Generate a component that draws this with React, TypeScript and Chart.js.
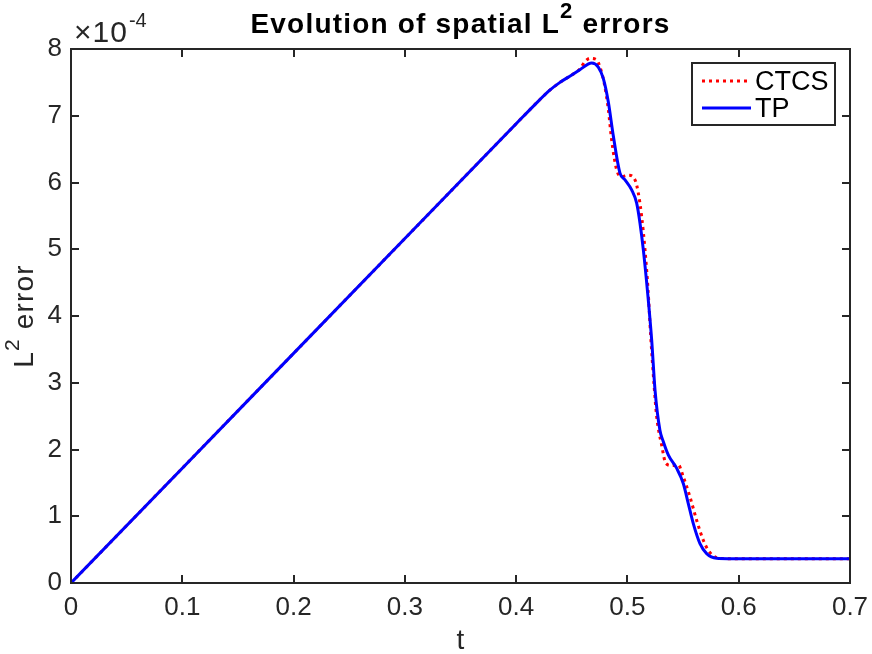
import React, { useEffect, useRef } from 'react';
import { Chart, registerables } from 'chart.js';

Chart.register(...registerables);

// Values of the L2 error are given in units of 1e-4 (axis multiplier "×10^-4").
const xTickValues = [0, 0.1, 0.2, 0.3, 0.4, 0.5, 0.6, 0.7];
const yTickValues = [0, 1, 2, 3, 4, 5, 6, 7, 8];
const seriesNames = ['CTCS', 'TP'];

const ctcsT = [0, 0.1, 0.2, 0.3, 0.4, 0.42, 0.43, 0.4394, 0.45, 0.4573, 0.4618, 0.4663, 0.4723, 0.4753, 0.479, 0.4828, 0.4858, 0.4903, 0.4948, 0.5008, 0.5068, 0.5098, 0.5128, 0.5158, 0.5185, 0.5209, 0.524, 0.5263, 0.5307, 0.5346, 0.54, 0.5457, 0.5502, 0.5562, 0.5622, 0.5682, 0.5727, 0.5802, 0.59, 0.7];
const ctcsErr = [0, 1.72, 3.44, 5.16, 6.88, 7.22, 7.38, 7.5, 7.61, 7.7, 7.81, 7.86, 7.84, 7.73, 7.5, 7.1, 6.64, 6.19, 6.09, 6.11, 6.04, 5.84, 5.49, 4.99, 4.4, 3.7, 2.95, 2.49, 2.07, 1.79, 1.76, 1.77, 1.59, 1.29, 0.94, 0.64, 0.49, 0.38, 0.365, 0.365];

const tpT = [0, 0.1, 0.2, 0.3, 0.4, 0.42, 0.43, 0.4394, 0.45, 0.4573, 0.4679, 0.4738, 0.4783, 0.4828, 0.4873, 0.4933, 0.4978, 0.5038, 0.5083, 0.5113, 0.5143, 0.5182, 0.5218, 0.5248, 0.5292, 0.5322, 0.5367, 0.5442, 0.5502, 0.5547, 0.5592, 0.5652, 0.5712, 0.5802, 0.59, 0.7];
const tpErr = [0, 1.72, 3.44, 5.16, 6.88, 7.22, 7.38, 7.5, 7.61, 7.69, 7.79, 7.73, 7.56, 7.21, 6.7, 6.14, 6.04, 5.89, 5.69, 5.39, 4.99, 4.34, 3.64, 2.89, 2.29, 2.12, 1.92, 1.72, 1.49, 1.19, 0.89, 0.59, 0.44, 0.37, 0.365, 0.365];

const FONT = '"Liberation Sans", Arial, Helvetica, sans-serif';
const AXIS_COLOR = '#262626';

function setSpacing(ctx: any, px: number) {
  if ('letterSpacing' in ctx) ctx.letterSpacing = `${px}px`;
}

const decorPlugin = {
  id: 'matlabDecor',
  afterDraw(chart: any) {
    const { ctx, chartArea } = chart;
    const { left, right, top, bottom } = chartArea;
    const xs = chart.scales.x;
    const ys = chart.scales.y;
    ctx.save();
    // box
    ctx.strokeStyle = AXIS_COLOR;
    ctx.lineWidth = 2;
    ctx.strokeRect(left, top, right - left, bottom - top);
    // inward ticks
    const tl = 8;
    ctx.beginPath();
    xTickValues.forEach((v) => {
      const px = Math.round(xs.getPixelForValue(v));
      ctx.moveTo(px, bottom);
      ctx.lineTo(px, bottom - tl);
      ctx.moveTo(px, top);
      ctx.lineTo(px, top + tl);
    });
    yTickValues.forEach((v) => {
      const py = Math.round(ys.getPixelForValue(v));
      ctx.moveTo(left, py);
      ctx.lineTo(left + tl, py);
      ctx.moveTo(right, py);
      ctx.lineTo(right - tl, py);
    });
    ctx.stroke();

    ctx.fillStyle = '#000';
    ctx.textBaseline = 'alphabetic';
    // title with superscript
    const tMain = 'Evolution of spatial L';
    const tSup = '2';
    const tEnd = ' errors';
    const mainFont = `bold 28px ${FONT}`;
    const supFont = `bold 22px ${FONT}`;
    setSpacing(ctx, 1.2);
    ctx.font = mainFont;
    const w1 = ctx.measureText(tMain).width;
    const w3 = ctx.measureText(tEnd).width;
    ctx.font = supFont;
    const w2 = ctx.measureText(tSup).width;
    const cx = (left + right) / 2;
    const gap = 0;
    const x0 = cx - (w1 + gap + w2 + w3) / 2;
    const tb = 33;
    ctx.textAlign = 'left';
    ctx.font = mainFont;
    ctx.fillText(tMain, x0, tb);
    ctx.font = supFont;
    ctx.fillText(tSup, x0 + w1 + gap, tb - 15);
    ctx.font = mainFont;
    ctx.fillText(tEnd, x0 + w1 + gap + w2, tb);
    setSpacing(ctx, 0);

    // exponent label
    ctx.fillStyle = AXIS_COLOR;
    ctx.font = `30px ${FONT}`;
    setSpacing(ctx, 1);
    ctx.fillText('\u00d710', left + 3, 42);
    const wx = ctx.measureText('\u00d710').width;
    setSpacing(ctx, 0);
    ctx.font = `20px ${FONT}`;
    ctx.fillText('-4', left + 3 + wx + 1, 27);

    // x label
    ctx.font = `28px ${FONT}`;
    ctx.textAlign = 'center';
    ctx.fillText('t', cx, 649);

    // y label (rotated)
    ctx.save();
    const cy = 316;
    ctx.translate(33, cy);
    ctx.rotate(-Math.PI / 2);
    ctx.textAlign = 'left';
    setSpacing(ctx, 1.2);
    ctx.font = `28px ${FONT}`;
    const yl1 = 'L';
    const yl3 = ' error';
    const a = ctx.measureText(yl1).width;
    const c = ctx.measureText(yl3).width;
    ctx.font = `21px ${FONT}`;
    const b = ctx.measureText('2').width;
    const ygap = 0;
    const sx = -(a + ygap + b + c) / 2;
    ctx.font = `28px ${FONT}`;
    ctx.fillText(yl1, sx, 0);
    ctx.font = `21px ${FONT}`;
    ctx.fillText('2', sx + a + ygap, -14);
    ctx.font = `28px ${FONT}`;
    ctx.fillText(yl3, sx + a + ygap + b, 0);
    setSpacing(ctx, 0);
    ctx.restore();

    // legend
    const lx = 692, ly = 63, lw = 143, lh = 62;
    ctx.fillStyle = '#fff';
    ctx.fillRect(lx, ly, lw, lh);
    ctx.strokeStyle = AXIS_COLOR;
    ctx.lineWidth = 2;
    ctx.strokeRect(lx, ly, lw, lh);
    const ds = chart.data.datasets;
    const rows = [81, 108];
    ds.forEach((d: any, i: number) => {
      ctx.beginPath();
      ctx.strokeStyle = d.borderColor;
      ctx.lineWidth = d.borderWidth;
      ctx.setLineDash(d.borderDash || []);
      ctx.moveTo(702, rows[i]);
      ctx.lineTo(751, rows[i]);
      ctx.stroke();
      ctx.setLineDash([]);
      ctx.fillStyle = '#000';
      ctx.font = `27px ${FONT}`;
      ctx.textAlign = 'left';
      ctx.fillText(d.label, 755, rows[i] + 9);
    });
    ctx.restore();
  },
};

export default function App() {
  const ref = useRef<HTMLCanvasElement | null>(null);
  useEffect(() => {
    if (!ref.current) return;
    const chart = new Chart(ref.current, {
      type: 'line',
      data: {
        datasets: [
          {
            label: seriesNames[0],
            data: ctcsT.map((t, i) => ({ x: t, y: ctcsErr[i] })),
            borderColor: '#ff0000',
            borderWidth: 3,
            borderDash: [3, 4],
            pointRadius: 0,
            cubicInterpolationMode: 'monotone',
            order: 2,
          },
          {
            label: seriesNames[1],
            data: tpT.map((t, i) => ({ x: t, y: tpErr[i] })),
            borderColor: '#0000ff',
            borderWidth: 3,
            pointRadius: 0,
            cubicInterpolationMode: 'monotone',
            order: 1,
          },
        ],
      },
      options: {
        animation: false,
        responsive: false,
        devicePixelRatio: 1,
        layout: { padding: { top: 49, right: 22, left: 0, bottom: 0 } },
        plugins: { legend: { display: false }, tooltip: { enabled: false }, title: { display: false } },
        scales: {
          x: {
            type: 'linear',
            min: 0,
            max: 0.7,
            grid: { display: false, drawTicks: false, tickLength: 0 },
            border: { display: false },
            afterBuildTicks: (s: any) => {
              s.ticks = xTickValues.map((v) => ({ value: v }));
            },
            afterFit: (s: any) => {
              s.height = 71;
              s.paddingLeft = 0;
              s.paddingRight = 0;
            },
            ticks: {
              autoSkip: false,
              maxRotation: 0,
              padding: 9,
              color: AXIS_COLOR,
              font: { family: FONT, size: 26 },
              callback: (v: any) => String(v),
            },
          },
          y: {
            type: 'linear',
            min: 0,
            max: 8,
            grid: { display: false, drawTicks: false, tickLength: 0 },
            border: { display: false },
            afterBuildTicks: (s: any) => {
              s.ticks = yTickValues.map((v) => ({ value: v }));
            },
            afterFit: (s: any) => {
              s.width = 71;
              s.paddingTop = 0;
              s.paddingBottom = 0;
            },
            ticks: {
              padding: 9,
              color: AXIS_COLOR,
              font: { family: FONT, size: 26 },
              callback: (v: any) => String(v),
            },
          },
        },
      },
      plugins: [decorPlugin],
    });
    return () => chart.destroy();
  }, []);
  return (
    <div style={{ position: 'absolute', left: 0, top: 0, width: 872, height: 654, background: '#fff' }}>
      <canvas ref={ref} width={872} height={654} style={{ width: 872, height: 654, display: 'block' }} />
    </div>
  );
}
